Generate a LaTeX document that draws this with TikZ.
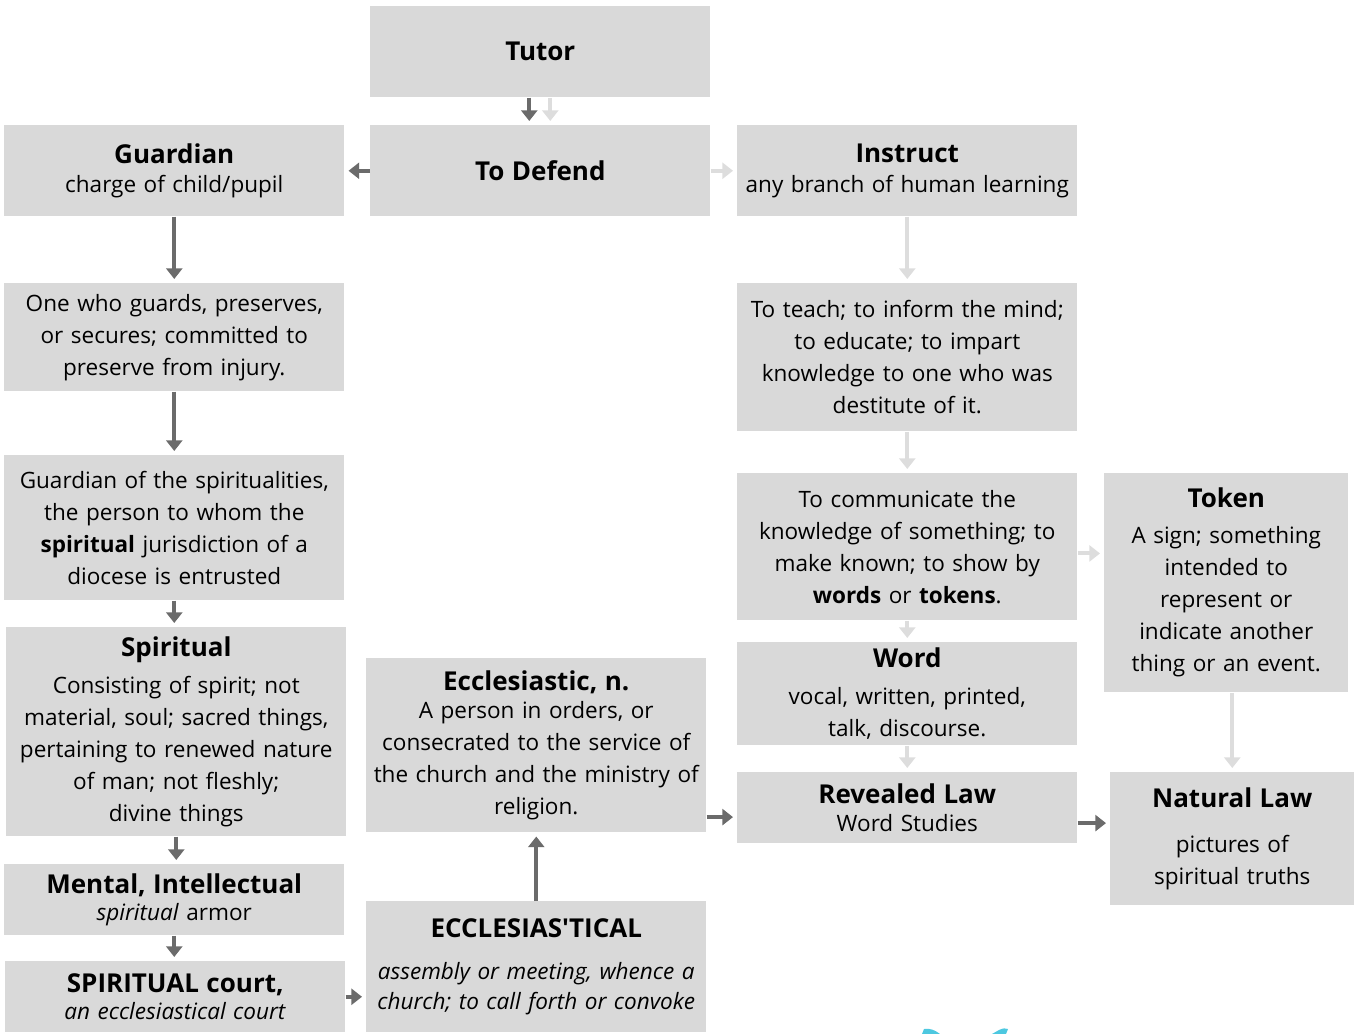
\documentclass[tikz,border=0pt]{standalone}
\usepackage{fontspec}
\setmainfont{Open Sans}
\usetikzlibrary{positioning,arrows.meta}
\definecolor{boxgray}{HTML}{D9D9D9}
\definecolor{darkarrow}{HTML}{6B6B6B}
\definecolor{lightarrow}{HTML}{DDDDDD}
\definecolor{logoblue}{HTML}{4DC8E0}
\newcommand{\ttl}{\fontsize{19.5}{24}\selectfont\bfseries}

\begin{document}
\begin{tikzpicture}[x=0.75pt,y=-0.75pt,>={Triangle[length=8pt,width=12pt]},
	box/.style={fill=boxgray,inner sep=0pt,anchor=north west,align=center,minimum width=255pt,text width=250pt,font=\fontsize{16.9}{24}\selectfont},
	narrow/.style={minimum width=183pt,text width=180pt},
	dk/.style={->,draw=darkarrow,line width=3pt,shorten >=3pt},
	lt/.style={->,draw=lightarrow,line width=3pt,shorten >=3pt}]

		\useasboundingbox (0,0) rectangle (1355,1034);

		\node[box,minimum height=68.25pt] (tutor) at (370,6) {\rule{0pt}{4pt}{\ttl Tutor}};
		\node[box,minimum height=68.25pt] (defend) at (370,125) {{\ttl To Defend}};
		\node[box,minimum height=68.25pt] (guardian) at (4,125) {{\ttl Guardian}\\[-2.5pt] charge of child/pupil};
		\node[box,minimum height=68.25pt] (instruct) at (737,125) {{\ttl Instruct}\\[-1.5pt] any branch of human learning};
		\node[box,minimum height=81pt] (guards) at (4,283) {One who guards, preserves,\\ or secures; committed to\\ preserve from injury.};
		\node[box,minimum height=108.75pt] (spiritualities) at (4,455) {Guardian of the spiritualities,\\ the person to whom the\\ \textbf{spiritual} jurisdiction of a\\ diocese is entrusted};
		\node[box,minimum height=156.75pt] (spiritual) at (6,627) {{\ttl Spiritual}\\[3.5pt] Consisting of spirit; not\\ material, soul; sacred things,\\ pertaining to renewed nature\\ of man; not fleshly;\\ divine things};
		\node[box,minimum height=53.25pt] (mental) at (4,864) {{\ttl Mental, Intellectual}\\[-3.75pt] \textit{spiritual} armor};
		\node[box,minimum height=53.25pt] (court) at (5,961) {{\ttl SPIRITUAL court,}\\[-3.75pt] \textit{an ecclesiastical court}};
		\node[box,minimum height=98.25pt] (eccles) at (366,901) {{\ttl ECCLESIAS\textquotesingle TICAL}\\[7pt] \textit{assembly or meeting, whence a}\\[-1.5pt] \textit{church; to call forth or convoke}\\[5pt]};
		\node[box,minimum height=130.5pt] (ecclesiastic) at (366,658) {{\ttl Ecclesiastic, n.}\\[-2.5pt] A person in orders, or\\ consecrated to the service of\\ the church and the ministry of\\ religion.};
		\node[box,minimum height=111pt] (teach) at (737,283) {To teach; to inform the mind;\\ to educate; to impart\\ knowledge to one who was\\ destitute of it.};
		\node[box,minimum height=110.25pt] (communicate) at (737,473) {To communicate the\\ knowledge of something; to\\ make known; to show by\\ \textbf{words} or \textbf{tokens}.};
		\node[box,minimum height=77.25pt] (word) at (737,642) {{\ttl Word}\\[3.5pt] vocal, written, printed,\\ talk, discourse.};
		\node[box,minimum height=53.25pt] (revealed) at (737,772) {{\ttl Revealed Law}\\[-3pt] Word Studies};
		\node[box,narrow,minimum height=164.25pt] (token) at (1104,473) {{\ttl Token}\\[3pt] A sign; something\\ intended to\\ represent or\\ indicate another\\ thing or an event.};
		\node[box,narrow,minimum height=99.75pt] (natural) at (1110,772) {{\ttl Natural Law}\\[10pt] pictures of\\ spiritual truths};

		\coordinate (r1) at ([yshift=-7pt]revealed.west);
		\coordinate (r2) at ([yshift=-11.5pt]revealed.east);
		\coordinate (c1) at ([yshift=-5pt]communicate.east);

		\draw[dk] ([xshift=-8.25pt]tutor.south) -- ([xshift=-8.25pt]defend.north);
		\draw[lt] ([xshift=7.5pt]tutor.south) -- ([xshift=7.5pt]defend.north);
		\draw[dk] (defend.west) -- (guardian.east);
		\draw[lt] (defend.east) -- (instruct.west);

		\draw[dk] (guardian.south) -- (guardian.south |- guards.north);
		\draw[dk] (guards.south) -- (guards.south |- spiritualities.north);
		\draw[dk] (spiritualities.south) -- (spiritualities.south |- spiritual.north);
		\draw[dk] (spiritual.south) -- (spiritual.south |- mental.north);
		\draw[dk] (mental.south) -- (mental.south |- court.north);
		\draw[dk] (court.east) -- (court.east -| eccles.west);
		\draw[dk] (eccles.north) -- (eccles.north |- ecclesiastic.south);
		\draw[dk] (ecclesiastic.east |- r1) -- (r1);
		\draw[dk] (r2) -- (r2 -| natural.west);

		\draw[lt] (instruct.south) -- (instruct.south |- teach.north);
		\draw[lt] (teach.south) -- (teach.south |- communicate.north);
		\draw[lt] (communicate.south) -- (communicate.south |- word.north);
		\draw[lt] (word.south) -- (word.south |- revealed.north);
		\draw[lt] (c1) -- (c1 -| token.west);
		\draw[lt] (natural.north |- token.south) -- (natural.north);

		\fill[logoblue] (922,1034) -- (924,1029) .. controls (930,1028) and (935,1030) .. (940,1034) -- cycle;
		\fill[logoblue] (992,1034) -- (999,1030) .. controls (1003,1028) and (1006,1028) .. (1008,1029) -- (1006,1034) -- cycle;
	\end{tikzpicture}
\end{document}
